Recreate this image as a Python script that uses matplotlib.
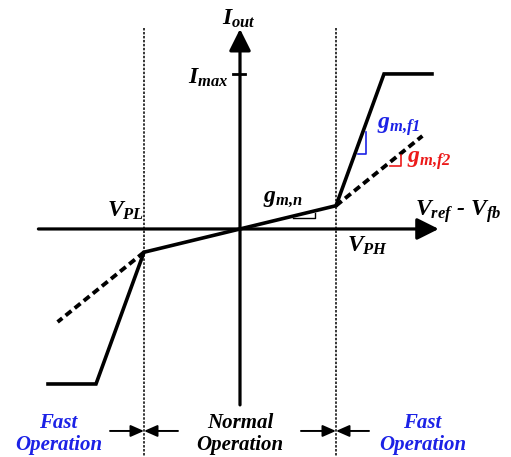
import matplotlib
matplotlib.use("Agg")
import matplotlib.pyplot as plt

plt.rcParams["mathtext.fontset"] = "custom"
plt.rcParams["mathtext.it"] = "Liberation Serif:bold:italic"
plt.rcParams["mathtext.rm"] = "Liberation Serif:bold:italic"
plt.rcParams["mathtext.bf"] = "Liberation Serif:bold:italic"
plt.rcParams["font.family"] = ["Liberation Serif", "DejaVu Serif"]

# Transfer characteristic of the transconductance stage (normalised units)
v_pl, v_ph = -1.0, 1.0
i_max = 1.0
# solid curve: normal slope between V_PL and V_PH, fast slope gm,f1 outside, clipped at +/- Imax
solid_x = [-2.0, -1.5, -1.0, 0.0, 1.0, 1.5, 2.0]
solid_y = [-1.0, -1.0, -0.15, 0.0, 0.15, 1.0, 1.0]
# dashed curve: fast slope gm,f2
dash_hi_x = [1.0, 1.9]
dash_hi_y = [0.15, 0.6]
dash_lo_x = [-1.0, -1.9]
dash_lo_y = [-0.15, -0.6]

BLUE = "#1c22e6"
RED = "#ec1a1a"

fig = plt.figure(figsize=(5.11, 4.57), dpi=100)
ax = fig.add_axes([0, 0, 1, 1])
ax.set_xlim(-2.5, 2.823)
ax.set_ylim(-1.471, 1.477)
ax.axis("off")

# axes with arrows
ax.annotate("", xy=(2.07, 0), xytext=(-2.1, 0),
            arrowprops=dict(arrowstyle="-|>,head_length=0.6,head_width=0.3",
                            lw=2.3, color="black", mutation_scale=22,
                            shrinkA=0, shrinkB=0))
ax.annotate("", xy=(0, 1.29), xytext=(0, -1.135),
            arrowprops=dict(arrowstyle="-|>,head_length=0.6,head_width=0.3",
                            lw=2.3, color="black", mutation_scale=22,
                            shrinkA=0, shrinkB=0))
# Imax tick
ax.plot([-0.07, 0.05], [i_max, i_max], color="black", lw=2.0)

# region boundaries
for vx in (v_pl, v_ph):
    ax.plot([vx, vx], [1.297, -1.471], color="black", lw=1.1,
            linestyle=(0, (1.6, 1.0)))

# characteristic curves
ax.plot(solid_x, solid_y, color="black", lw=2.6, solid_joinstyle="miter")
ax.plot(dash_hi_x, dash_hi_y, color="black", lw=2.8, linestyle=(0, (1.9, 1.1)))
ax.plot(dash_lo_x, dash_lo_y, color="black", lw=2.8, linestyle=(0, (1.9, 1.1)))

# slope triangles
ax.plot([1.229, 1.3125, 1.3125], [0.484, 0.484, 0.626], color=BLUE, lw=1.2)
ax.plot([1.5625, 1.677, 1.677], [0.406, 0.406, 0.477], color=RED, lw=1.2)
ax.plot([0.552, 0.781, 0.781], [0.073, 0.073, 0.105], color="black", lw=1.0)

fs = 17
ax.text(-0.19, 1.32, r"$I_{out}$", fontsize=fs, ha="left", va="baseline")
ax.text(-0.54, 0.94, r"$I_{max}$", fontsize=fs, ha="left", va="baseline")
ax.text(-1.385, 0.077, r"$V_{PL}$", fontsize=fs, ha="left", va="baseline")
ax.text(1.115, -0.148, r"$V_{PH}$", fontsize=fs, ha="left", va="baseline")
ax.text(1.823, 0.084, r"$V_{ref}$ - $V_{fb}$", fontsize=fs, ha="left",
        va="baseline", fontweight="bold", fontstyle="italic")
ax.text(1.427, 0.65, r"$g_{m{,}f1}$", fontsize=fs, ha="left", va="baseline",
        color=BLUE)
ax.text(1.74, 0.43, r"$g_{m{,}f2}$", fontsize=fs, ha="left", va="baseline",
        color=RED)
ax.text(0.24, 0.174, r"$g_{m{,}n}$", fontsize=fs, ha="left", va="baseline")

# operating regions
rs = 15
region_y = -1.426
ax.text(-1.89, region_y, "Fast\nOperation", fontsize=rs, ha="center",
        va="baseline", color=BLUE, fontweight="bold", fontstyle="italic",
        linespacing=1.15, multialignment="center")
ax.text(0.0, region_y, "Normal\nOperation", fontsize=rs, ha="center",
        va="baseline", color="black", fontweight="bold", fontstyle="italic",
        linespacing=1.15, multialignment="center")
ax.text(1.90, region_y, "Fast\nOperation", fontsize=rs, ha="center",
        va="baseline", color=BLUE, fontweight="bold", fontstyle="italic",
        linespacing=1.15, multialignment="center")

arrow_y = -1.303
for start, end in ((-1.354, v_pl), (-0.646, v_pl), (0.635, v_ph), (1.344, v_ph)):
    ax.annotate("", xy=(end, arrow_y), xytext=(start, arrow_y),
                arrowprops=dict(arrowstyle="-|>,head_length=0.5,head_width=0.22",
                                lw=1.4, color="black", mutation_scale=16,
                                shrinkA=0, shrinkB=0))

fig.savefig("out.png", dpi=100)
